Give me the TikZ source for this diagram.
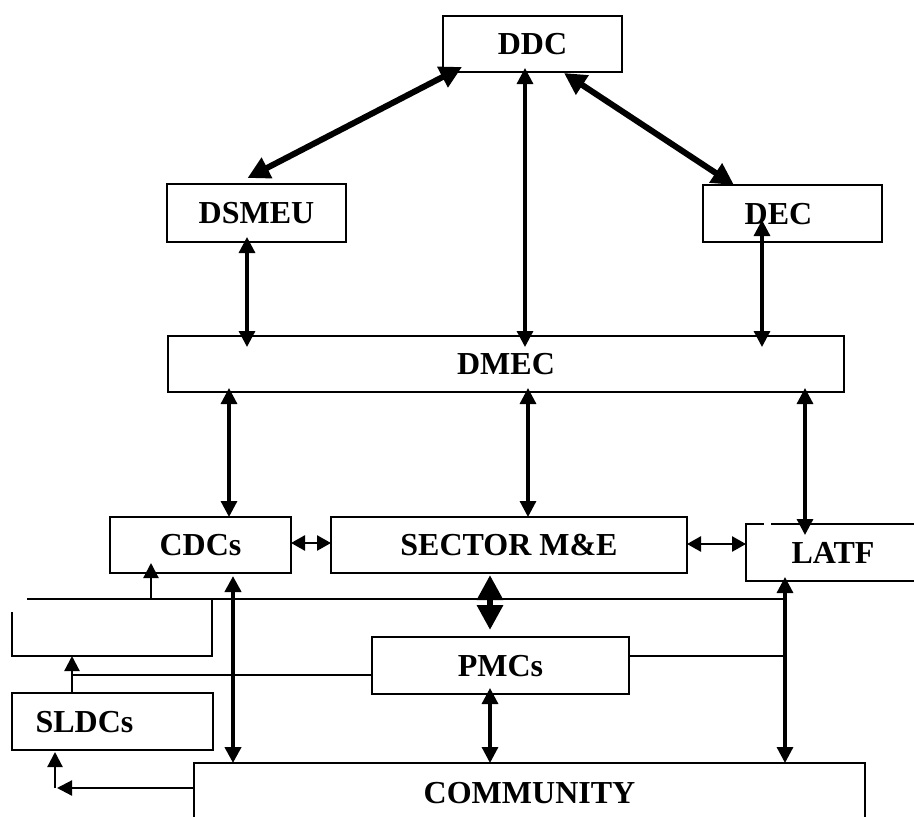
\documentclass[tikz,border=0pt]{standalone}
\usepackage{fontspec}
\setmainfont{Liberation Serif}
\usetikzlibrary{arrows.meta,calc}
\begin{document}
\begin{tikzpicture}[x=1pt,y=-1pt,
  box/.style={draw, line width=2.2pt, rectangle, inner sep=0pt, outer sep=0pt,
    font=\fontsize{32}{32}\selectfont\bfseries, text height=21pt, text depth=0pt},
  boxline/.style={line width=2.2pt},
  link/.style={line width=3.2pt, {Triangle[length=16pt,width=16pt]}-{Triangle[length=16pt,width=16pt]}},
  heavy/.style={line width=6pt, {Triangle[length=22pt,width=22pt]}-{Triangle[length=22pt,width=22pt]}},
  big/.style={line width=6.5pt, {Triangle[length=25pt,width=25pt]}-{Triangle[length=25pt,width=25pt]}},
  mid/.style={line width=4.5pt, {Triangle[length=16pt,width=16pt]}-{Triangle[length=16pt,width=16pt]}},
  short/.style={line width=2.6pt, {Triangle[length=14pt,width=15pt]}-{Triangle[length=14pt,width=15pt]}},
  oneway/.style={line width=2.2pt, -{Triangle[length=15pt,width=15pt]}},
  plain/.style={line width=2.1pt}]
\useasboundingbox (0,0) rectangle (914,817);
\fill[white] (0,0) rectangle (914,817);

% boxes
\node[box, minimum width=179pt, minimum height=56pt] (ddc) at (532.5,44) {DDC};
\node[box, minimum width=179pt, minimum height=58pt] (dsmeu) at (256.5,213) {DSMEU};
\node[box, minimum width=179pt, minimum height=57pt] (dec) at (792.5,213.5) {DEC\hspace*{28pt}};
\node[box, minimum width=676pt, minimum height=56pt] (dmec) at (506,364) {DMEC};
\node[box, minimum width=181pt, minimum height=56pt] (cdcs) at (200.5,545) {CDCs};
\node[box, minimum width=356pt, minimum height=56pt] (sector) at (509,545) {SECTOR M\&E};
\node[box, minimum width=184pt, minimum height=57pt] (latf) at (838,552.5) {LATF\hspace*{10pt}};
\node[box, minimum width=257pt, minimum height=57pt] (pmcs) at (500.5,665.5) {PMCs};
\node[box, minimum width=201pt, minimum height=57pt] (sldcs) at (112.5,721.5) {SLDCs\hspace*{56pt}};
\node[box, minimum width=671pt, minimum height=60pt] (community) at (529.5,793) {COMMUNITY};
\node[inner sep=0pt, outer sep=0pt, minimum width=200pt, minimum height=57pt] (blank) at (112,627.5) {};
\draw[boxline] ([yshift=-13pt]blank.north west) -- (blank.south west) -- (blank.south east) -- (blank.north east);
% small gap in the top edge of LATF
\draw[white, line width=3.5pt] ([xshift=18pt]latf.north west) -- ([xshift=25pt]latf.north west);

% junction coordinates
\coordinate (jr) at (785,656);
\coordinate (jl) at (72,675);
\coordinate (corner) at (55,788);

% top level
\draw[heavy] ([xshift=19pt,yshift=5pt]ddc.south west) -- ([xshift=-9pt,yshift=6pt]dsmeu.north);
\draw[heavy] ([xshift=31.5pt,yshift=-1pt]ddc.south) -- ([xshift=-58.5pt]dec.north);
\draw[link] ([yshift=4pt]525,0 |- ddc.south) -- ([yshift=-11pt]525,0 |- dmec.north);
\draw[link] ([yshift=5pt]247,0 |- dsmeu.south) -- ([yshift=-11pt]247,0 |- dmec.north);
\draw[link] ([yshift=22pt]762,0 |- dec.south) -- ([yshift=-11pt]762,0 |- dmec.north);

% DMEC to third row
\draw[link] ([yshift=4pt]229,0 |- dmec.south) -- (229,0 |- cdcs.north);
\draw[link] ([yshift=4pt]528,0 |- dmec.south) -- (528,0 |- sector.north);
\draw[link] ([yshift=4pt]805,0 |- dmec.south) -- ([yshift=-11pt]805,0 |- latf.north);

% third row horizontal
\draw[short] (cdcs.east |- 0,543) -- (sector.west |- 0,543);
\draw[short] (sector.east |- 0,544) -- (latf.west |- 0,544);

% lower part
\draw[plain] ([xshift=15pt]blank.north west) -- (785,0 |- blank.north);
\draw[big] ([yshift=-2pt]490,0 |- sector.south) -- ([yshift=7pt]490,0 |- pmcs.north);
\draw[mid] ([yshift=-3pt]233,0 |- cdcs.south) -- (233,0 |- community.north);
\draw[link] ([yshift=6pt]490,0 |- pmcs.south) -- (490,0 |- community.north);
\draw[link] ([yshift=4pt]785,0 |- latf.south) -- (785,0 |- community.north);
\draw[oneway] (151,0 |- blank.north) -- ([yshift=10pt]151,0 |- cdcs.south);
\draw[plain] (pmcs.east |- jr) -- (jr);
\draw[plain] (pmcs.west |- jl) -- (jl);
\draw[oneway] (jl |- sldcs.north) -- (jl |- blank.south);
\draw[oneway] (community.west |- corner) -- ([xshift=2pt]corner);
\draw[oneway] (corner) -- ([yshift=-2pt]corner |- sldcs.south);
\end{tikzpicture}
\end{document}
